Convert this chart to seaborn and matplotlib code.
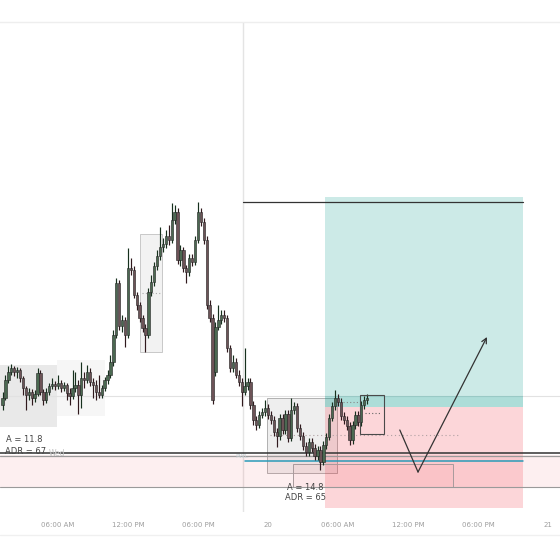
#!/usr/bin/env python
# intraday candles with a long position setup

import matplotlib

matplotlib.use("Agg")
import matplotlib.pyplot as plt
import pandas as pd
import seaborn as sns
from matplotlib.lines import Line2D
from matplotlib.patches import Rectangle

# 15 minute bars, time in hours from the 19th 00:00, price in points
first_bar_hour = 1.25
bar_hours = 0.25

opens = [155, 162, 180, 188, 192, 188, 190, 182, 172, 165,
         168, 162, 166, 187, 168, 160, 168, 174, 176, 174,
         177, 172, 175, 167, 164, 172, 175, 165, 182, 180,
         188, 178, 175, 168, 165, 172, 180, 185, 198, 225,
         277, 234, 240, 225, 292, 290, 265, 255, 242, 232,
         225, 268, 278, 294, 304, 313, 316, 324, 320, 340,
         348, 300, 310, 292, 288, 302, 298, 320, 348, 338,
         320, 255, 242, 188, 233, 240, 245, 242, 212, 192,
         198, 185, 178, 168, 174, 178, 155, 140, 135, 145,
         148, 152, 145, 140, 128, 124, 142, 130, 146, 122,
         150, 154, 132, 124, 114, 108, 118, 112, 104, 110,
         98, 115, 123, 142, 154, 162, 158, 144, 140, 134,
         120, 135, 145, 138, 155, 160]
closes = [162, 180, 188, 192, 188, 190, 182, 172, 165, 168,
          162, 166, 187, 168, 160, 168, 174, 176, 174, 177,
          172, 175, 167, 164, 172, 175, 165, 182, 180, 188,
          178, 175, 168, 165, 172, 180, 185, 198, 225, 277,
          234, 240, 225, 292, 290, 265, 255, 242, 232, 225,
          268, 278, 294, 304, 313, 316, 324, 320, 340, 348,
          300, 310, 292, 288, 302, 298, 320, 348, 338, 320,
          255, 242, 160, 233, 240, 245, 242, 212, 192, 198,
          185, 178, 168, 174, 178, 155, 140, 135, 145, 148,
          152, 145, 140, 128, 124, 142, 130, 146, 122, 150,
          154, 132, 124, 114, 108, 118, 112, 104, 110, 98,
          115, 123, 142, 154, 162, 158, 144, 140, 134, 120,
          135, 145, 138, 155, 160, 162]
highs = [168, 185, 194, 196, 194, 193, 192, 184, 174, 172,
         171, 170, 192, 190, 171, 172, 177, 182, 179, 185,
         180, 178, 177, 172, 190, 188, 180, 198, 188, 195,
         192, 182, 180, 185, 175, 183, 190, 205, 230, 282,
         280, 245, 243, 312, 302, 294, 268, 258, 245, 236,
         272, 285, 298, 310, 333, 322, 330, 335, 357, 355,
         352, 315, 313, 295, 306, 306, 324, 358, 352, 342,
         324, 260, 246, 238, 255, 250, 250, 245, 215, 205,
         202, 190, 182, 212, 182, 182, 159, 144, 149, 152,
         160, 156, 149, 144, 132, 146, 146, 150, 150, 162,
         158, 157, 136, 128, 118, 122, 122, 116, 114, 114,
         119, 127, 146, 158, 170, 166, 162, 148, 144, 138,
         139, 149, 149, 159, 164, 166]
lows = [150, 160, 177, 185, 184, 182, 178, 165, 150, 160,
        155, 158, 164, 165, 155, 157, 165, 171, 170, 171,
        168, 169, 160, 155, 161, 168, 146, 152, 172, 177,
        174, 162, 160, 162, 162, 169, 176, 182, 194, 222,
        230, 228, 213, 222, 285, 262, 250, 238, 228, 208,
        222, 264, 274, 290, 300, 308, 312, 315, 317, 336,
        296, 294, 288, 277, 284, 294, 295, 317, 334, 316,
        251, 238, 156, 184, 230, 236, 238, 208, 188, 188,
        182, 174, 154, 165, 170, 151, 135, 130, 132, 142,
        144, 141, 136, 124, 113, 120, 126, 126, 118, 119,
        146, 128, 120, 110, 104, 104, 108, 100, 100, 90,
        95, 111, 120, 139, 150, 154, 140, 136, 130, 115,
        116, 131, 134, 134, 151, 156]

tick_hours = [6, 12, 18, 24, 30, 36, 42, 48]
tick_labels = ["06:00 AM", "12:00 PM", "06:00 PM", "20",
               "06:00 AM", "12:00 PM", "06:00 PM", "21"]

# long position tool
trade_start, trade_end = 28.9, 45.86
entry, target, stop = 153, 363, 52
target_line = 358
# weekly range band
band_low, band_high = 73, 105
# projected path
path_hours = [35.3, 36.86, 42.77]
path_prices = [130, 88, 223]

df = pd.DataFrame({"open": opens, "high": highs, "low": lows, "close": closes})
df["hour"] = first_bar_hour + bar_hours * df.index
df["up"] = df["close"] >= df["open"]

sns.set_theme(style="white")

fig = plt.figure(figsize=(5.6, 5.6), dpi=100)
ax = fig.add_axes([0, 48 / 560, 1, 490 / 560])
ax.set_xlim(1.03, 49.03)
ax.set_ylim(48, 538)

# background boxes and zones
ax.add_patch(Rectangle((1.03, 133), 4.88, 62, color="#e9e9e9", zorder=1, lw=0))
ax.add_patch(Rectangle((5.91, 144), 4.12, 56, color="#f6f6f6", zorder=1, lw=0))
ax.add_patch(Rectangle((13.03, 208), 1.88, 118, facecolor="#f2f2f2",
                       edgecolor="#c8c8c8", lw=0.7, zorder=1))
ax.plot([13.2, 14.8], [267, 267], ls=(0, (1, 2)), color="#aaaaaa", lw=0.8, zorder=2)
ax.add_patch(Rectangle((23.91, 87), 6.0, 75, facecolor="#eeeeee",
                       edgecolor="#b0b0b0", lw=0.7, zorder=1))

ax.add_patch(Rectangle((trade_start, entry), trade_end - trade_start, target - entry,
                       color="#009688", alpha=0.2, lw=0, zorder=1.5))
ax.add_patch(Rectangle((trade_start, entry), trade_end - trade_start, 11,
                       color="#009688", alpha=0.15, lw=0, zorder=1.5))
ax.add_patch(Rectangle((trade_start, stop), trade_end - trade_start, entry - stop,
                       color="#f23645", alpha=0.2, lw=0, zorder=1.5))
ax.add_patch(Rectangle((1.03, band_low), 48, band_high - band_low,
                       color="#f23645", alpha=0.08, lw=0, zorder=1.6))
ax.add_patch(Rectangle((26.14, 73), 13.72, 23, facecolor="#f23645", alpha=0.04,
                       lw=0, zorder=1.6))
ax.add_patch(Rectangle((26.14, 73), 13.72, 23, facecolor="none",
                       edgecolor="#a89a9c", lw=0.7, zorder=1.7))

# lines
ax.axvline(21.86, color="#e4e4e4", lw=1, zorder=1)
ax.axhline(164, color="#e2e2e2", lw=0.8, zorder=1.2)
ax.plot([21.86, trade_end], [target_line, target_line], color="#333333", lw=0.9, zorder=2)
ax.axhline(107, color="#333333", lw=1.1, zorder=2)
ax.axhline(104, color="#9a9a9a", lw=0.9, zorder=2)
ax.axhline(band_low, color="#9a9a9a", lw=0.8, zorder=2)
ax.plot([22.03, trade_end], [99, 99], color="#2a9bb8", lw=1.1, zorder=2)
ax.plot([24.17, 40.46], [125, 125], ls=(0, (1, 2.5)), color="#b0a0a2", lw=0.8, zorder=2)
ax.plot([30.4, 31.9], [158, 158], ls=(0, (1, 2)), color="#888888", lw=0.8, zorder=2)
ax.add_patch(Rectangle((31.89, 126), 2.05, 39, facecolor="none",
                       edgecolor="#4a4a4a", lw=0.8, zorder=4))
ax.plot([32.3, 33.6], [147, 147], ls=(0, (1, 2)), color="#666666", lw=0.8, zorder=4)

# candles
wick_cols = df["up"].map({True: "#16301d", False: "#30191d"})
ax.vlines(df["hour"], df["low"], df["high"], color=wick_cols, lw=0.85, zorder=3)
body_bottom = df[["open", "close"]].min(axis=1)
body_height = (df["close"] - df["open"]).abs().clip(lower=1.5)
body_cols = df["up"].map({True: "#4b6951", False: "#6d5357"})
ax.bar(df["hour"], body_height, bottom=body_bottom, width=0.2,
       color=body_cols, edgecolor="#222222", linewidth=0.4, zorder=3.5)

# projected move
sns.lineplot(x=path_hours[:2], y=path_prices[:2], ax=ax, color="#333333",
             lw=0.9, sort=False, zorder=5)
ax.annotate("", xy=(path_hours[2], path_prices[2]),
            xytext=(path_hours[1], path_prices[1]),
            arrowprops=dict(arrowstyle="->", color="#333333", lw=0.9,
                            shrinkA=0, shrinkB=0, mutation_scale=9),
            zorder=5)

# annotations
txt = dict(fontsize=6, color="#444444", zorder=6)
ax.text(1.55, 120, "A = 11.8", va="center", **txt)
ax.text(1.45, 108, "ADR = 67", va="center", **txt)
ax.text(5.2, 107, "Wed", va="center", fontsize=5.5, color="#c4c4c4", zorder=6)
ax.text(21.2, 103, "PWL", va="center", fontsize=4.5, color="#c8d4d8", zorder=6)
ax.text(27.2, 73, "A = 14.8", va="center", ha="center", **txt)
ax.text(27.2, 62, "ADR = 65", va="center", ha="center", **txt)

# axes styling
ax.set_xticks(tick_hours)
ax.set_xticklabels(tick_labels)
ax.tick_params(axis="x", length=0, pad=7, labelsize=5, labelcolor="#9e9e9e")
ax.set_yticks([])
ax.set_xlabel("")
ax.set_ylabel("")
for side in ["left", "right", "bottom"]:
    ax.spines[side].set_visible(False)
ax.spines["top"].set_color("#eeeeee")
ax.spines["top"].set_linewidth(1)
fig.add_artist(Line2D([0, 1], [25 / 560, 25 / 560], color="#f0f0f0", lw=1))

plt.savefig("out.png", dpi=100)
plt.close()
